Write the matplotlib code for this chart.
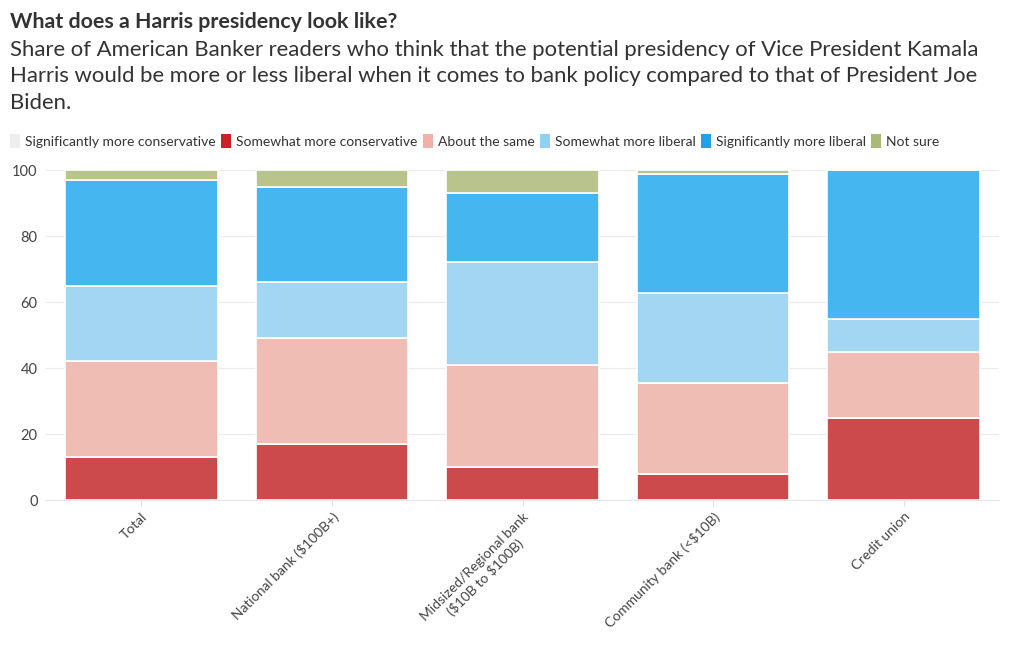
import matplotlib
matplotlib.use("Agg")
import matplotlib.pyplot as plt
import numpy as np

categories = ["Total", "National bank ($100B+)", "Midsized/Regional bank\n($10B to $100B)",
              "Community bank (<$10B)", "Credit union"]
series_names = ["Significantly more conservative", "Somewhat more conservative", "About the same",
                "Somewhat more liberal", "Significantly more liberal", "Not sure"]
sig_cons = [0, 0, 0, 0, 0]
some_cons = [13, 17, 10, 8, 25]
same = [29, 32, 31, 27.4, 20]
some_lib = [23, 17, 31, 27.3, 10]
sig_lib = [32, 29, 21, 36.1, 45]
not_sure = [3, 5, 7, 1.2, 0]
yticks = [0, 20, 40, 60, 80, 100]

values = [sig_cons, some_cons, same, some_lib, sig_lib, not_sure]
bar_colors = ["#eeeeee", "#cc4a4b", "#efbdb4", "#a2d6f3", "#45b6ef", "#b8c48c"]
legend_colors = ["#eeeeee", "#cf2027", "#f1b1a8", "#8fd1f5", "#1ea3ea", "#a8b97a"]

plt.rcParams['text.parse_math'] = False
plt.rcParams['font.family'] = ['Lato', 'DejaVu Sans']
fig = plt.figure(figsize=(10.2, 6.5), dpi=100)
ax = fig.add_axes([46/1020, 150/650, 953/1020, 330/650])

x = np.arange(len(categories))
bottom = np.zeros(len(categories))
for vals, col in zip(values, bar_colors):
    v = np.array(vals, dtype=float)
    ax.bar(x, v, bottom=bottom, width=0.8, color=col, edgecolor="white", linewidth=1.2, zorder=2)
    bottom += v

ax.set_xlim(-0.5, len(categories) - 0.5)
ax.set_ylim(0, 100)
ax.set_yticks(yticks)
ax.set_yticklabels([str(t) for t in yticks], fontsize=10.5, color="#444444")
ax.yaxis.grid(True, color="#ebebeb", linewidth=0.8, zorder=0)
ax.set_axisbelow(True)
for s in ["top", "right", "left"]:
    ax.spines[s].set_visible(False)
ax.spines["bottom"].set_color("#e6e6e6")
ax.tick_params(axis="y", length=0, pad=6)
ax.tick_params(axis="x", length=4, color="#e0e0e0")
ax.set_xticks(x)
ax.set_xticklabels(categories, rotation=45, ha="right", rotation_mode="anchor",
                   fontsize=10, color="#444444", multialignment="center")

# Titles
fig.text(10/1020, 1 - 22/650, "What does a Harris presidency look like?", fontsize=15.4,
         fontweight="bold", color="#333333", va="center", ha="left")
sub_lines = ["Share of American Banker readers who think that the potential presidency of Vice President Kamala",
             "Harris would be more or less liberal when it comes to bank policy compared to that of President Joe",
             "Biden."]
for i, line in enumerate(sub_lines):
    fig.text(10/1020, 1 - (50 + 26.5 * i)/650, line, fontsize=15.9, color="#333333",
             va="center", ha="left")

# Legend
handles = [plt.Rectangle((0, 0), 1, 1, facecolor=c, edgecolor="none") for c in legend_colors]
leg = fig.legend(handles, series_names, loc="center left", bbox_to_anchor=(10/1020, 1 - 141/650),
                 ncol=6, frameon=False, fontsize=10, handlelength=0.75, handleheight=1.15,
                 handletextpad=0.35, columnspacing=0.36, borderaxespad=0, borderpad=0)
for t in leg.get_texts():
    t.set_color("#333333")

fig.savefig("out.png", dpi=100)
